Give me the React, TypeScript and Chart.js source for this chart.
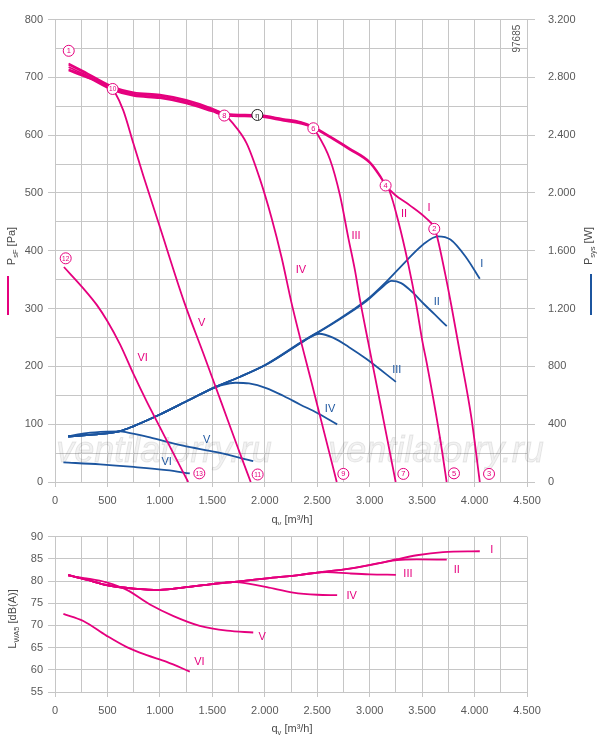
import React, { useEffect, useRef } from "react";
import { Chart, registerables } from "chart.js";

Chart.register(...registerables);

const PINK = "#e5007e";
const BLUE = "#1c559f";
const GRID = "#c6c6c6";
const TEXT = "#595959";
const FONT = "'Liberation Sans', Arial, sans-serif";

// static pressure p_sF [Pa] over flow rate q_v [m³/h]
const pI_q = [130, 270, 550, 750, 1000, 1250, 1500, 1620, 1930, 2180, 2340, 2460, 2650, 2810, 3000, 3100, 3150, 3240, 3380, 3540, 3616, 3645, 3720, 3780, 3860, 3970, 4050];
const pI = [718, 706, 680, 670, 666, 657, 643, 636, 634, 627, 622, 613, 593, 575, 552, 528, 514, 497, 479, 456, 440, 423, 360, 304, 224, 111, 0];
const pII_q = [130, 270, 550, 750, 1000, 1250, 1500, 1620, 1930, 2180, 2340, 2460, 2650, 2810, 3000, 3100, 3150, 3190, 3273, 3368, 3442, 3505, 3543, 3670, 3734];
const pII = [722, 709, 682, 672, 668, 659, 645, 637, 635, 628, 623, 615, 595, 577, 554, 530, 514, 503, 451, 377, 309, 241, 207, 77, 0];
const pIII_q = [130, 270, 550, 750, 1000, 1250, 1500, 1620, 1930, 2180, 2340, 2460, 2495, 2622, 2717, 2797, 2860, 2908, 2987, 3024, 3128, 3248];
const pIII = [714, 704, 678, 668, 664, 655, 641, 634, 632, 625, 620, 612, 604, 558, 496, 422, 366, 315, 241, 207, 111, 0];
const pIV_q = [130, 270, 550, 750, 1000, 1250, 1500, 1614, 1684, 1827, 1954, 2066, 2161, 2256, 2470, 2686];
const pIV = [724, 711, 684, 674, 670, 661, 646, 636, 623, 586, 524, 456, 388, 309, 155, 0];
const pV_q = [130, 270, 550, 572, 651, 747, 842, 993, 1236, 1411, 1583, 1754, 1866];
const pV = [712, 702, 679, 674, 643, 586, 530, 445, 309, 224, 139, 54, 0];
const pVI_q = [85, 270, 400, 500, 620, 750, 875, 1000, 1130, 1270];
const pVI = [372, 335, 306, 278, 238, 186, 139, 95, 49, 0];

// system power P_sys [W]
const wI_q = [125, 300, 490, 620, 750, 1000, 1250, 1500, 1760, 2020, 2340, 2650, 2970, 3160, 3350, 3510, 3650, 3770, 3920, 4050];
const wI = [315, 325, 337, 352, 387, 467, 557, 648, 727, 817, 965, 1101, 1259, 1387, 1531, 1644, 1700, 1678, 1554, 1406];
const wII_q = [125, 300, 490, 620, 750, 1000, 1250, 1500, 1760, 2020, 2340, 2650, 2970, 3100, 3210, 3300, 3420, 3510, 3620, 3735];
const wII = [315, 325, 337, 352, 387, 467, 557, 648, 727, 815, 962, 1097, 1252, 1335, 1392, 1376, 1305, 1237, 1160, 1078];
const wIII_q = [125, 300, 490, 620, 750, 1000, 1250, 1500, 1760, 2020, 2340, 2420, 2520, 2650, 2800, 2970, 3250];
const wIII = [315, 325, 337, 352, 387, 467, 557, 648, 727, 815, 960, 998, 1026, 999, 935, 851, 693];
const wIV_q = [125, 300, 490, 620, 750, 1000, 1250, 1500, 1600, 1720, 1850, 2020, 2180, 2340, 2500, 2690];
const wIV = [315, 325, 337, 352, 387, 467, 557, 645, 672, 687, 682, 648, 595, 535, 478, 399];
const wV_q = [125, 300, 490, 620, 685, 905, 1220, 1540, 1890];
const wV = [317, 338, 348, 350, 344, 308, 251, 206, 145];
const wVI_q = [80, 430, 750, 1065, 1285];
const wVI = [136, 122, 104, 82, 59];

// sound power L_WA5 [dB(A)]
const sI_q = [125, 300, 490, 750, 1000, 1250, 1500, 1760, 2020, 2340, 2500, 2810, 3130, 3260, 3450, 3700, 4050];
const sI = [81.3, 80.3, 79.1, 78.3, 78.0, 78.6, 79.3, 79.9, 80.6, 81.4, 81.9, 82.8, 84.2, 84.9, 85.8, 86.5, 86.7];
const sII_q = [125, 300, 490, 750, 1000, 1250, 1500, 1760, 2020, 2340, 2500, 2810, 3130, 3260, 3450, 3735];
const sII = [81.3, 80.3, 79.1, 78.3, 78.0, 78.6, 79.3, 79.9, 80.6, 81.4, 81.9, 82.8, 84.2, 84.7, 84.85, 84.8];
const sIII_q = [125, 300, 490, 750, 1000, 1250, 1500, 1760, 2020, 2340, 2500, 2590, 2810, 3000, 3250];
const sIII = [81.3, 80.3, 79.1, 78.3, 78.0, 78.6, 79.3, 79.9, 80.6, 81.4, 81.9, 82.0, 81.7, 81.5, 81.4];
const sIV_q = [125, 300, 490, 750, 1000, 1250, 1500, 1700, 1760, 2020, 2270, 2500, 2690];
const sIV = [81.3, 80.3, 79.1, 78.3, 78.0, 78.6, 79.3, 79.8, 79.7, 78.6, 77.4, 76.9, 76.8];
const sV_q = [125, 300, 490, 685, 905, 1130, 1380, 1640, 1890];
const sV = [81.2, 80.6, 79.7, 78.0, 74.7, 72.1, 69.9, 68.8, 68.4];
const sVI_q = [80, 270, 490, 685, 875, 1065, 1285];
const sVI = [72.6, 71.0, 67.7, 65.1, 63.3, 61.8, 59.6];

// curve labels
const ROMAN = ["I", "II", "III", "IV", "V", "VI"];
const pLabelQ = [3566, 3327, 2870, 2345, 1399, 836];
const pLabelP = [474, 464, 425, 367, 275, 214];
const wLabelQ = [4068, 3639, 3258, 2622, 1446, 1065];
const wLabelW = [1508, 1248, 772, 505, 292, 136];
const sLabelQ = [4164, 3830, 3365, 2829, 1976, 1376];
const sLabelL = [86.9, 82.5, 81.5, 76.7, 67.3, 61.8];

// circled operating points
const markerText = ["1", "10", "8", "η", "6", "4", "2", "12", "13", "11", "9", "7", "5", "3"];
const markerQ = [131, 550, 1614, 1929, 2463, 3152, 3616, 102, 1376, 1932, 2749, 3321, 3804, 4138];
const markerP = [746, 680, 634, 635, 612, 513, 438, 387, 15, 13, 14, 14, 15, 14];

const fmt = (v: number) =>
  v >= 1000 ? `${Math.floor(v / 1000)}.${String(v % 1000).padStart(3, "0")}` : String(v);

const line = (qs: number[], vs: number[], color: string, axis = "y") => ({
  data: qs.map((q, i) => ({ x: q, y: vs[i] })),
  borderColor: color,
  borderWidth: 1.8,
  pointRadius: 0,
  fill: false,
  cubicInterpolationMode: "monotone",
  yAxisID: axis,
});

const tickFont = { family: FONT, size: 11 };

const xScale = (h: number) => ({
  type: "linear",
  min: 0,
  max: 4500,
  afterFit: (s: any) => {
    s.height = h;
  },
  ticks: {
    stepSize: 250,
    autoSkip: false,
    maxRotation: 0,
    padding: 7,
    color: TEXT,
    font: tickFont,
    callback: (v: any) => (Number(v) % 500 === 0 ? fmt(Number(v)) : ""),
  },
  grid: {
    color: GRID,
    lineWidth: 1,
    tickLength: 5,
    tickColor: (c: any) => (c.tick && c.tick.value % 500 === 0 ? GRID : "transparent"),
  },
  border: { color: GRID },
});

// text with subscripts, centred on (x, y)
function drawRich(ctx: any, parts: [string, boolean][], x: number, y: number, rotate: boolean) {
  ctx.save();
  ctx.translate(x, y);
  if (rotate) ctx.rotate(-Math.PI / 2);
  const big = `11px ${FONT}`;
  const small = `7.5px ${FONT}`;
  let total = 0;
  parts.forEach(([t, sub]) => {
    ctx.font = sub ? small : big;
    total += ctx.measureText(t).width;
  });
  let cx = -total / 2;
  ctx.fillStyle = "#4a4a4a";
  ctx.textAlign = "left";
  ctx.textBaseline = "alphabetic";
  parts.forEach(([t, sub]) => {
    ctx.font = sub ? small : big;
    ctx.fillText(t, cx, sub ? 6.5 : 4);
    cx += ctx.measureText(t).width;
  });
  ctx.restore();
}

function drawLabels(ctx: any, xs: any, ys: any, qs: number[], vs: number[], color: string) {
  ctx.save();
  ctx.font = `11px ${FONT}`;
  ctx.fillStyle = color;
  ctx.textAlign = "center";
  ctx.textBaseline = "middle";
  qs.forEach((q, i) => ctx.fillText(ROMAN[i], xs.getPixelForValue(q), ys.getPixelForValue(vs[i])));
  ctx.restore();
}

const topDecor = {
  id: "topDecor",
  beforeDatasetsDraw(chart: any) {
    const { ctx, chartArea } = chart;
    ctx.save();
    ctx.font = `italic 36px ${FONT}`;
    ctx.textAlign = "center";
    ctx.textBaseline = "middle";
    ctx.fillStyle = "rgba(0,0,0,0.05)";
    ctx.strokeStyle = "rgba(0,0,0,0.09)";
    ctx.lineWidth = 1;
    [chartArea.left + 109, chartArea.left + 381].forEach((cx) => {
      ctx.fillText("ventilatorry.ru", cx, chartArea.bottom - 30);
      ctx.strokeText("ventilatorry.ru", cx, chartArea.bottom - 30);
    });
    ctx.restore();
  },
  afterDatasetsDraw(chart: any) {
    const { ctx, scales } = chart;
    drawLabels(ctx, scales.x, scales.y, pLabelQ, pLabelP, PINK);
    drawLabels(ctx, scales.x, scales.y2, wLabelQ, wLabelW, BLUE);
    ctx.save();
    markerQ.forEach((q, i) => {
      const cx = scales.x.getPixelForValue(q);
      const cy = scales.y.getPixelForValue(markerP[i]);
      const col = markerText[i] === "η" ? "#222" : PINK;
      ctx.beginPath();
      ctx.arc(cx, cy, 5.5, 0, Math.PI * 2);
      ctx.fillStyle = "#fff";
      ctx.fill();
      ctx.lineWidth = 1;
      ctx.strokeStyle = col;
      ctx.stroke();
      ctx.fillStyle = col;
      ctx.font = `${markerText[i].length > 1 ? 6.5 : 7.5}px ${FONT}`;
      ctx.textAlign = "center";
      ctx.textBaseline = "middle";
      ctx.fillText(markerText[i], cx, cy + 0.5);
    });
    ctx.restore();
  },
  afterDraw(chart: any) {
    const { ctx, chartArea } = chart;
    drawRich(ctx, [["P", false], ["sF", true], [" [Pa]", false]], 11, 246, true);
    drawRich(ctx, [["P", false], ["sys", true], [" [W]", false]], 588, 246, true);
    drawRich(ctx, [["q", false], ["v", true], [" [m³/h]", false]], 292, 519, false);
    ctx.save();
    ctx.fillStyle = PINK;
    ctx.fillRect(7, 276, 2, 39);
    ctx.fillStyle = BLUE;
    ctx.fillRect(590, 274, 2, 41);
    ctx.translate(chartArea.right - 9.5, chartArea.top + 19);
    ctx.rotate(-Math.PI / 2);
    ctx.font = `10px ${FONT}`;
    ctx.fillStyle = TEXT;
    ctx.textAlign = "center";
    ctx.textBaseline = "middle";
    ctx.fillText("97685", 0, 0);
    ctx.restore();
  },
};

const bottomDecor = {
  id: "bottomDecor",
  afterDatasetsDraw(chart: any) {
    const { ctx, scales } = chart;
    drawLabels(ctx, scales.x, scales.y, sLabelQ, sLabelL, PINK);
  },
  afterDraw(chart: any) {
    const { ctx } = chart;
    drawRich(ctx, [["L", false], ["WA5", true], [" [dB(A)]", false]], 12, 94, true);
    drawRich(ctx, [["q", false], ["v", true], [" [m³/h]", false]], 292, 203, false);
  },
};

export default function App() {
  const topRef = useRef<HTMLCanvasElement>(null);
  const botRef = useRef<HTMLCanvasElement>(null);

  useEffect(() => {
    document.body.style.margin = "0";

    const top = new Chart(topRef.current as HTMLCanvasElement, {
      type: "line",
      data: {
        datasets: [
          line(pI_q, pI, PINK),
          line(pII_q, pII, PINK),
          line(pIII_q, pIII, PINK),
          line(pIV_q, pIV, PINK),
          line(pV_q, pV, PINK),
          line(pVI_q, pVI, PINK),
          line(wI_q, wI, BLUE, "y2"),
          line(wII_q, wII, BLUE, "y2"),
          line(wIII_q, wIII, BLUE, "y2"),
          line(wIV_q, wIV, BLUE, "y2"),
          line(wV_q, wV, BLUE, "y2"),
          line(wVI_q, wVI, BLUE, "y2"),
        ],
      } as any,
      options: {
        responsive: false,
        animation: false,
        events: [],
        layout: { padding: { top: 11, left: 0, right: 0, bottom: 0 } },
        plugins: { legend: { display: false }, tooltip: { enabled: false } },
        scales: {
          x: xScale(43),
          y: {
            position: "left",
            min: 0,
            max: 800,
            afterFit: (s: any) => {
              s.width = 55;
            },
            ticks: {
              stepSize: 50,
              autoSkip: false,
              padding: 5,
              color: TEXT,
              font: tickFont,
              callback: (v: any) => (Number(v) % 100 === 0 ? String(v) : ""),
            },
            grid: {
              color: GRID,
              lineWidth: 1,
              tickLength: 7,
              tickColor: (c: any) => (c.tick && c.tick.value % 100 === 0 ? GRID : "transparent"),
            },
            border: { color: GRID },
          },
          y2: {
            position: "right",
            min: 0,
            max: 3200,
            afterFit: (s: any) => {
              s.width = 73;
            },
            ticks: {
              stepSize: 200,
              autoSkip: false,
              padding: 13,
              color: TEXT,
              font: tickFont,
              callback: (v: any) => (Number(v) % 400 === 0 ? fmt(Number(v)) : ""),
            },
            grid: {
              drawOnChartArea: false,
              color: GRID,
              tickLength: 8,
              tickColor: (c: any) => (c.tick && c.tick.value % 400 === 0 ? GRID : "transparent"),
            },
            border: { color: GRID },
          },
        } as any,
      },
      plugins: [topDecor],
    });

    const bot = new Chart(botRef.current as HTMLCanvasElement, {
      type: "line",
      data: {
        datasets: [
          line(sI_q, sI, PINK),
          line(sII_q, sII, PINK),
          line(sIII_q, sIII, PINK),
          line(sIV_q, sIV, PINK),
          line(sV_q, sV, PINK),
          line(sVI_q, sVI, PINK),
        ],
      } as any,
      options: {
        responsive: false,
        animation: false,
        events: [],
        layout: { padding: { top: 9, left: 0, right: 73, bottom: 0 } },
        plugins: { legend: { display: false }, tooltip: { enabled: false } },
        scales: {
          x: xScale(48),
          y: {
            min: 55,
            max: 90,
            afterFit: (s: any) => {
              s.width = 55;
            },
            ticks: { stepSize: 5, autoSkip: false, padding: 5, color: TEXT, font: tickFont },
            grid: { color: GRID, lineWidth: 1, tickLength: 7 },
            border: { color: GRID },
          },
        } as any,
      },
      plugins: [bottomDecor],
    });

    return () => {
      top.destroy();
      bot.destroy();
    };
  }, []);

  return (
    <div style={{ position: "relative", width: 600, height: 740, background: "#fff" }}>
      <canvas ref={topRef} width={600} height={525} style={{ position: "absolute", left: 0, top: 0 }} />
      <canvas ref={botRef} width={600} height={215} style={{ position: "absolute", left: 0, top: 525 }} />
    </div>
  );
}
